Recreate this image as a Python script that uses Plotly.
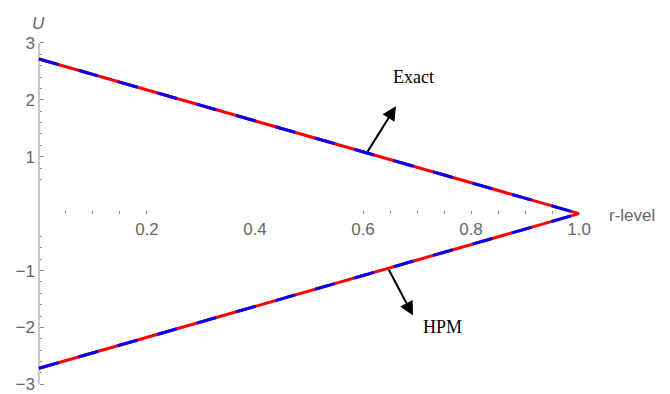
import plotly.graph_objects as go

# r-levels and the bounds of the fuzzy solution U at each level
r_level = [0.0, 1.0]
exact_upper = [2.718, 0.0]
exact_lower = [-2.718, 0.0]
hpm_upper = [2.718, 0.0]
hpm_lower = [-2.718, 0.0]

x_tick_vals = [0.2, 0.4, 0.6, 0.8, 1.0]
x_tick_text = ["0.2", "0.4", "0.6", "0.8", "1.0"]
x_minor_vals = [0.05, 0.1, 0.15, 0.2, 0.6, 0.65, 0.7, 0.75, 0.8, 0.85, 0.9, 0.95]
y_tick_vals = [-3, -2, -1, 1, 2, 3]
y_tick_text = ["\u22123", "\u22122", "\u22121", "1", "2", "3"]
y_minor_vals = [-2.8, -2.6, -2.4, -2.2, -1.8, -1.6, -1.4, -1.2, -0.8, -0.6, -0.4,
                0.6, 0.8, 1.2, 1.4, 1.6, 1.8, 2.2, 2.4, 2.6, 2.8]

X_RANGE = [-0.0722, 1.1685]
Y_RANGE = [-3.117, 3.755]

RED = "#ff0000"
BLUE = "#0000ff"
GREY = "#666666"
AXIS_GREY = "#909090"

fig = go.Figure()

for ys in (exact_upper, exact_lower):
    fig.add_trace(go.Scatter(x=r_level, y=ys, mode="lines",
                             line=dict(color=RED, width=3), hoverinfo="skip"))
for ys in (hpm_upper, hpm_lower):
    fig.add_trace(go.Scatter(x=r_level, y=ys, mode="lines",
                             line=dict(color=BLUE, width=3, dash="20.5px,20.5px"),
                             hoverinfo="skip"))

# vertical U axis line spanning the labelled range
fig.add_shape(type="line", x0=0, x1=0, y0=-3.0, y1=3.0, xref="x", yref="y",
              line=dict(color=AXIS_GREY, width=1), layer="below")

fig.update_layout(
    width=670, height=394,
    margin=dict(l=0, r=0, t=0, b=0),
    paper_bgcolor="white", plot_bgcolor="white",
    showlegend=False,
    font=dict(family="Liberation Sans, Arial, sans-serif", size=17, color=GREY),
    xaxis=dict(
        range=X_RANGE, anchor="free", position=(394 - 215.3) / 394,
        showgrid=False, zeroline=False, showline=False,
        tickvals=x_tick_vals, ticktext=x_tick_text,
        ticks="outside", ticklen=0, tickfont=dict(size=17, color=GREY),
        ticklabelstandoff=0, ticklabeloverflow="allow",
        minor=dict(tickvals=x_minor_vals, ticks="inside", ticklen=3,
                   tickcolor=AXIS_GREY, tickwidth=1, showgrid=False),
    ),
    yaxis=dict(
        range=Y_RANGE, anchor="free", position=39 / 670,
        showgrid=False, zeroline=False, showline=False,
        tickvals=y_tick_vals, ticktext=y_tick_text,
        ticks="inside", ticklen=4, tickcolor=AXIS_GREY, tickwidth=1,
        tickfont=dict(size=17, color=GREY),
        ticklabelstandoff=4, ticklabeloverflow="allow",
        minor=dict(tickvals=y_minor_vals, ticks="inside", ticklen=2,
                   tickcolor=AXIS_GREY, tickwidth=1, showgrid=False),
    ),
)

# axis titles
fig.add_annotation(x=0.0, y=3.35, xref="x", yref="y", text="<i>U</i>",
                   showarrow=False, font=dict(size=17, color=GREY))
fig.add_annotation(x=1.052, y=-0.03, xref="x", yref="y", text="r-level",
                   showarrow=False, xanchor="left",
                   font=dict(size=17, color=GREY))

# labelled arrows
serif = "Liberation Serif, Times New Roman, serif"
fig.add_annotation(x=0.661, y=1.889, ax=0.607, ay=1.068, xref="x", yref="y",
                   axref="x", ayref="y", text="", showarrow=True,
                   arrowhead=2, arrowsize=1.4, arrowwidth=2, arrowcolor="black")
fig.add_annotation(x=0.6926, y=2.395, xref="x", yref="y", text="Exact",
                   showarrow=False, font=dict(family=serif, size=18, color="black"))
fig.add_annotation(x=0.6926, y=-1.791, ax=0.6463, ay=-0.961, xref="x", yref="y",
                   axref="x", ayref="y", text="", showarrow=True,
                   arrowhead=2, arrowsize=1.4, arrowwidth=2, arrowcolor="black")
fig.add_annotation(x=0.748, y=-2.0, xref="x", yref="y", text="HPM",
                   showarrow=False, font=dict(family=serif, size=18, color="black"))

fig.write_html("out.html")
